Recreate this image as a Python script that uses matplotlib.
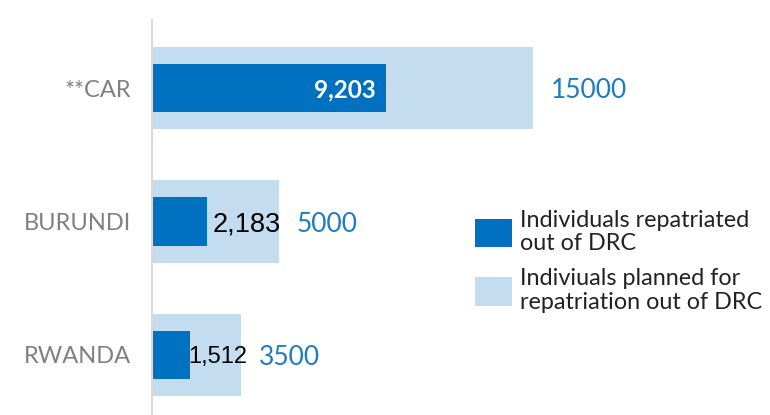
import matplotlib.pyplot as plt

# data
countries = ['**CAR', 'BURUNDI', 'RWANDA']
repatriated = [9203, 2183, 1512]
planned = [15000, 5000, 3500]
repatriated_labels = ['9,203', '2,183', '1,512']

DARK = '#0070c0'
LIGHT = '#c4dcef'
BLUE_TXT = '#1f7bc2'
GREY = '#808080'

plt.rcParams['font.family'] = ['Lato', 'DejaVu Sans']

fig = plt.figure(figsize=(7.7, 4.15), dpi=100)
# axes spans x 152..770 px and y 20..415 px
ax = fig.add_axes([152 / 770, 0, 618 / 770, 395 / 415])

pos = range(len(countries))
ax.barh(pos, planned, height=0.615, color=LIGHT, label='Indiviuals planned for\nrepatriation out of DRC')
ax.barh(pos, repatriated, height=0.36, color=DARK, label='Individuals repatriated\nout of DRC')

ax.set_xlim(0, 618 / 25.4 * 1000)
ax.set_ylim(2.45, -0.51)

for i, v in enumerate(planned):
    ax.annotate(str(v), (v, i), xytext=(13, 0), textcoords='offset points',
                va='center_baseline', ha='left', fontsize=19, color=BLUE_TXT)

# value labels for repatriated bars
ax.annotate(repatriated_labels[0], (repatriated[0], 0), xytext=(-7.5, 0), textcoords='offset points',
            va='center_baseline', ha='right', fontsize=17.5, color='white', fontweight='bold')
label_font = ['Liberation Sans', 'DejaVu Sans']
ax.annotate(repatriated_labels[1], (repatriated[1], 1), xytext=(4, 0), textcoords='offset points',
            va='center_baseline', ha='left', fontsize=19.5, color='black', family=label_font)
ax.annotate(repatriated_labels[2], (repatriated[2], 2), xytext=(-1.5, 0), textcoords='offset points',
            va='center_baseline', ha='left', fontsize=17, color='black', family=label_font)

ax.set_yticks(list(pos))
ax.set_yticklabels(countries, fontsize=17, color=GREY)
ax.tick_params(axis='y', length=0, pad=15)
ax.set_xticks([])
for s in ['top', 'right', 'bottom']:
    ax.spines[s].set_visible(False)
ax.spines['left'].set_color('#d9d9d9')
ax.spines['left'].set_linewidth(1.5)

handles, labels = ax.get_legend_handles_labels()
leg = fig.legend(handles[::-1], labels[::-1], loc='upper left', bbox_to_anchor=(463 / 770, 1 - 198 / 415),
                 frameon=False, fontsize=16.8, handlelength=1.6, handleheight=1.5,
                 handletextpad=0.35, labelspacing=0.6, borderpad=0)
for t in leg.get_texts():
    t.set_color('#222222')
    t.set_linespacing(1.15)

fig.savefig('out.png', dpi=100)
